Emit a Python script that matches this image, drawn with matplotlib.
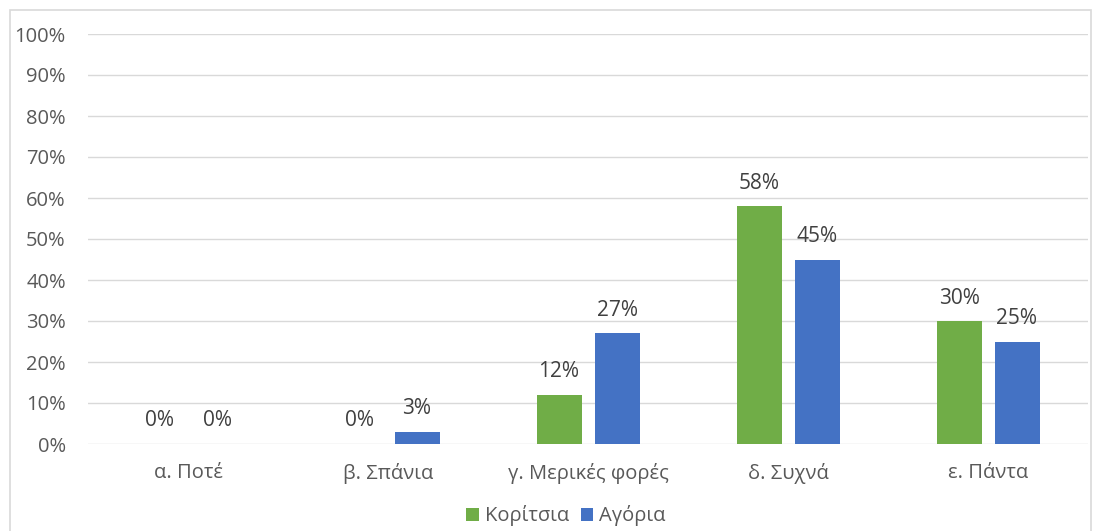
import matplotlib
matplotlib.use("Agg")
import matplotlib.pyplot as plt
from matplotlib.patches import Rectangle
import numpy as np

categories = ["α. Ποτέ", "β. Σπάνια", "γ. Μερικές φορές", "δ. Συχνά", "ε. Πάντα"]
girls = [0, 0, 12, 58, 30]
boys = [0, 3, 27, 45, 25]
series_names = ["Κορίτσια", "Αγόρια"]
yticks = [0, 10, 20, 30, 40, 50, 60, 70, 80, 90, 100]

plt.rcParams['font.family'] = ['Open Sans', 'DejaVu Sans']
txt = '#595959'
fs = 14.5
W, H = 1103, 531
fig = plt.figure(figsize=(W/100, H/100), dpi=100)
ax = fig.add_axes([88/W, 1-444/H, 1000/W, 410/H])

x = np.arange(len(categories))
bw = 0.225
off = 0.145
b1 = ax.bar(x - off, girls, bw, color='#70AD47', label=series_names[0], zorder=3)
b2 = ax.bar(x + off, boys, bw, color='#4472C4', label=series_names[1], zorder=3)
for bars, vals in ((b1, girls), (b2, boys)):
    for rect, v in zip(bars, vals):
        ax.annotate(f"{v}%", (rect.get_x() + rect.get_width()/2, v),
                    xytext=(0, 9), textcoords='offset points', ha='center', va='bottom',
                    fontsize=15, color='#404040')

ax.set_xlim(-0.5, len(categories) - 0.5)
ax.set_ylim(0, 100)
ax.set_yticks(yticks)
ax.set_yticklabels([f"{t}%" for t in yticks], fontsize=fs, color=txt)
ax.set_xticks(x)
ax.set_xticklabels(categories, fontsize=fs, color=txt)
ax.tick_params(axis='both', length=0)
ax.tick_params(axis='y', pad=16)
ax.tick_params(axis='x', pad=14)
ax.yaxis.grid(True, color='#D9D9D9', linewidth=1, zorder=0)
for s in ax.spines.values():
    s.set_visible(False)

leg = fig.legend(handles=[b1, b2], labels=series_names, loc='center', bbox_to_anchor=(566/W, 1-516/H),
                 ncol=2, frameon=False, fontsize=fs, handlelength=0.6, handleheight=0.6,
                 handletextpad=0.3, columnspacing=0.6, labelcolor=txt)

fig.patches.append(Rectangle((10/W, -0.01), (1091-10)/W, 1-10/H + 0.01, transform=fig.transFigure,
                             fill=False, edgecolor='#D9D9D9', linewidth=1.2))
fig.savefig("out.png", dpi=100)
